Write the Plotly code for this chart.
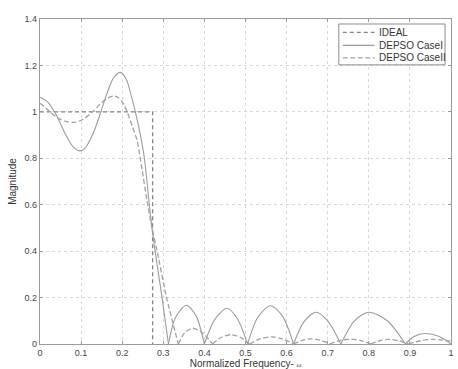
import plotly.graph_objects as go

# ---- data ----
ideal_f = [0.0, 0.274, 0.274]
ideal_m = [1.0, 1.0, 0.0]

case1_pass_f = [0.0, 0.02, 0.04, 0.06, 0.08, 0.096, 0.11, 0.13, 0.148, 0.165, 0.18, 0.196,
                0.21, 0.222, 0.232, 0.242, 0.254, 0.266, 0.2725, 0.28, 0.297, 0.3125]
case1_pass_m = [1.063, 1.04, 0.985, 0.91, 0.85, 0.832, 0.845, 0.91, 1.0, 1.09, 1.15, 1.17,
                1.14, 1.07, 1.0, 0.92, 0.8, 0.6, 0.5, 0.4, 0.2, 0.0]

case1_lobes_f = [
    [0.3125, 0.33, 0.356, 0.38, 0.40],
    [0.40, 0.425, 0.455, 0.48, 0.505],
    [0.505, 0.53, 0.561, 0.59, 0.617],
    [0.617, 0.642, 0.671, 0.70, 0.732],
    [0.732, 0.765, 0.80, 0.845, 0.889],
    [0.889, 0.91, 0.9375, 0.97, 1.0],
]
case1_lobes_m = [
    [0, 0.115, 0.167, 0.12, 0],
    [0, 0.105, 0.154, 0.11, 0],
    [0, 0.115, 0.165, 0.12, 0],
    [0, 0.095, 0.137, 0.10, 0],
    [0, 0.10, 0.137, 0.10, 0],
    [0, 0.032, 0.045, 0.033, 0],
]

case2_pass_f = [0.0, 0.012, 0.024, 0.045, 0.065, 0.085, 0.105, 0.128, 0.15, 0.168, 0.18, 0.192,
                0.203, 0.212, 0.224, 0.236, 0.244, 0.262, 0.2725, 0.285, 0.308, 0.3365]
case2_pass_m = [1.037, 1.02, 1.0, 0.972, 0.958, 0.955, 0.968, 1.0, 1.04, 1.062, 1.068, 1.06,
                1.035, 1.0, 0.94, 0.878, 0.8, 0.6, 0.5, 0.4, 0.2, 0.0]

case2_lobes_f = [
    [0.3365, 0.352, 0.372, 0.395, 0.42],
    [0.42, 0.44, 0.465, 0.488, 0.51],
    [0.51, 0.535, 0.563, 0.59, 0.617],
    [0.617, 0.638, 0.66, 0.683, 0.705],
    [0.705, 0.73, 0.755, 0.78, 0.805],
    [0.805, 0.827, 0.85, 0.873, 0.897],
    [0.897, 0.925, 0.955, 0.98, 1.0],
]
case2_lobes_m = [
    [0, 0.048, 0.068, 0.048, 0],
    [0, 0.028, 0.040, 0.028, 0],
    [0, 0.022, 0.031, 0.022, 0],
    [0, 0.016, 0.022, 0.016, 0],
    [0, 0.015, 0.021, 0.015, 0],
    [0, 0.014, 0.020, 0.014, 0],
    [0, 0.014, 0.020, 0.017, 0.012],
]

series_names = ["IDEAL", "DEPSO CaseI", "DEPSO CaseII"]

x_ticks = [0, 0.1, 0.2, 0.3, 0.4, 0.5, 0.6, 0.7, 0.8, 0.9, 1.0]
x_tick_labels = ["0", "0.1", "0.2", "0.3", "0.4", "0.5", "0.6", "0.7", "0.8", "0.9", "1"]
y_ticks = [0, 0.2, 0.4, 0.6, 0.8, 1.0, 1.2, 1.4]
y_tick_labels = ["0", "0.2", "0.4", "0.6", "0.8", "1", "1.2", "1.4"]

FONT = "Liberation Sans, Arial, sans-serif"
styles = [
    dict(color="#858585", width=1.3, dash="4px,3px"),
    dict(color="#9c9c9c", width=1.1),
    dict(color="#a2a2a2", width=1.3, dash="5px,2.5px"),
]

L, R, T, B = 40, 4, 19, 24
W, H = 458, 369
PW, PH = W - L - R, H - T - B


def join_segments(pass_f, pass_m, lobes_f, lobes_m):
    xs, ys = list(pass_f), list(pass_m)
    for lf, lm in zip(lobes_f, lobes_m):
        xs += [None] + list(lf)
        ys += [None] + list(lm)
    return xs, ys


c1x, c1y = join_segments(case1_pass_f, case1_pass_m, case1_lobes_f, case1_lobes_m)
c2x, c2y = join_segments(case2_pass_f, case2_pass_m, case2_lobes_f, case2_lobes_m)

fig = go.Figure()
fig.add_trace(go.Scatter(x=ideal_f, y=ideal_m, mode="lines", name=series_names[0],
                         line=styles[0], showlegend=False))
fig.add_trace(go.Scatter(x=c1x, y=c1y, mode="lines", name=series_names[1],
                         line=dict(**styles[1], shape="spline", smoothing=0.8), showlegend=False))
fig.add_trace(go.Scatter(x=c2x, y=c2y, mode="lines", name=series_names[2],
                         line=dict(**styles[2], shape="spline", smoothing=0.8), showlegend=False))


def px_x(p):
    return (p - L) / PW


def px_y(p):
    return (T + PH - p) / PH


shapes = [dict(type="rect", xref="paper", yref="paper",
               x0=px_x(341), x1=px_x(448), y0=px_y(65), y1=px_y(24),
               line=dict(color="#8c8c8c", width=1), fillcolor="white", layer="above")]
annotations = []
row_y = [32.5, 45.5, 58]
for name, st, ry in zip(series_names, styles, row_y):
    shapes.append(dict(type="line", xref="paper", yref="paper",
                       x0=px_x(345), x1=px_x(377), y0=px_y(ry), y1=px_y(ry),
                       line=dict(color=st["color"], width=st["width"], dash=st.get("dash", "solid")),
                       layer="above"))
    annotations.append(dict(xref="paper", yref="paper", x=px_x(379), y=px_y(ry),
                            xanchor="left", yanchor="middle", showarrow=False, text=name,
                            font=dict(family=FONT, size=10, color="#333")))

axis_common = dict(
    showline=True, linecolor="#9a9a9a", linewidth=1.2, mirror="ticks",
    ticks="inside", ticklen=3, tickcolor="#9a9a9a",
    showgrid=True, gridcolor="#d9d9d9", griddash="dot", gridwidth=1,
    zeroline=False, ticklabeloverflow="allow",
    tickfont=dict(family=FONT, size=9, color="#444"),
)

fig.update_layout(
    width=W, height=H,
    margin=dict(l=L, r=R, t=T, b=B),
    paper_bgcolor="white", plot_bgcolor="white",
    showlegend=False,
    shapes=shapes,
    annotations=annotations,
    xaxis=dict(range=[0, 1], tickvals=x_ticks, ticktext=x_tick_labels,
               title=dict(text="Normalized Frequency- <span style='font-size:6px'>ω</span>",
                          font=dict(family=FONT, size=10, color="#333"),
                          standoff=0),
               **axis_common),
    yaxis=dict(range=[0, 1.4], tickvals=y_ticks, ticktext=y_tick_labels,
               title=dict(text="Magnitude",
                          font=dict(family=FONT, size=10, color="#333"),
                          standoff=6),
               **axis_common),
)

fig.write_html("out.html")
